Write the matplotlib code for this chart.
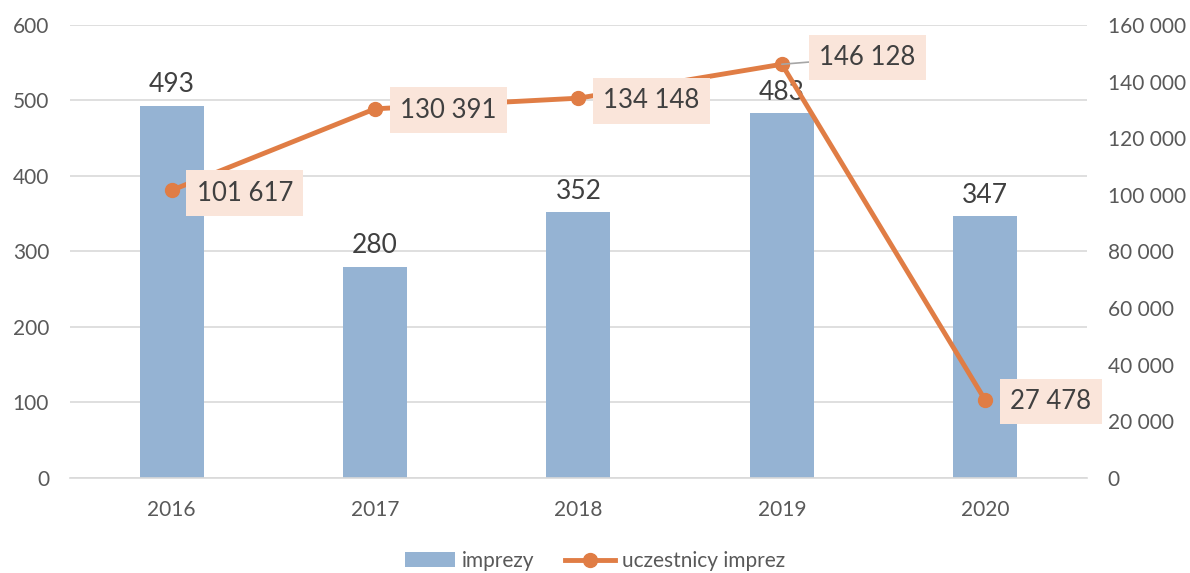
import matplotlib
matplotlib.use("Agg")
import matplotlib.pyplot as plt
import numpy as np

plt.rcParams["font.family"] = ["Lato", "DejaVu Sans"]

years = ["2016", "2017", "2018", "2019", "2020"]
imprezy = [493, 280, 352, 483, 347]
uczestnicy = [101617, 130391, 134148, 146128, 27478]
left_ticks = [0, 100, 200, 300, 400, 500, 600]
right_ticks = [0, 20000, 40000, 60000, 80000, 100000, 120000, 140000, 160000]

bar_color = "#95B3D3"
line_color = "#E07D45"
box_color = "#FAE5DA"
text_color = "#404040"
tick_color = "#595959"


def fmt(v):
    return f"{v:,}".replace(",", " ")


fig = plt.figure(figsize=(11.9, 5.73), dpi=100)
ax = fig.add_axes([0.0588, 0.1658, 0.8546, 0.7906])
ax2 = ax.twinx()

x = np.arange(len(years))
ax.bar(x, imprezy, width=0.315, color=bar_color, zorder=2, label="imprezy")
ax.set_ylim(0, 600)
ax.set_yticks(left_ticks)
ax.set_xlim(-0.5, len(years) - 0.5)
ax.set_xticks(x)
ax.set_xticklabels(years)
ax.grid(axis="y", color="#D9D9D9", linewidth=1.2, zorder=0)
ax.set_axisbelow(True)
for s in ["top", "left", "right"]:
    ax.spines[s].set_visible(False)
ax.spines["bottom"].set_color("#D9D9D9")
ax.spines["bottom"].set_linewidth(1.2)
ax.tick_params(axis="both", length=0, labelsize=15, colors=tick_color)
ax.tick_params(axis="x", pad=16)
ax.tick_params(axis="y", pad=15)

for xi, v in zip(x, imprezy):
    ax.text(xi, v + 11, str(v), ha="center", va="bottom", fontsize=19, color=text_color)

ax2.plot(x, uczestnicy, color=line_color, linewidth=3.5, marker="o", markersize=10,
         zorder=3, label="uczestnicy imprez")
ax2.set_ylim(0, 160000)
ax2.set_yticks(right_ticks)
ax2.set_yticklabels([fmt(t) for t in right_ticks])
for s in ["top", "left", "right", "bottom"]:
    ax2.spines[s].set_visible(False)
ax2.tick_params(axis="y", length=0, labelsize=15, colors=tick_color, pad=15)

bbox = dict(boxstyle="square,pad=0.4", facecolor=box_color, edgecolor="none")
offsets = [(18, -2), (18, -1), (18, -2), (27, 5), (18, -1)]
for i, (xi, v) in enumerate(zip(x, uczestnicy)):
    dx, dy = offsets[i]
    kw = {}
    if i == 3:
        kw["arrowprops"] = dict(arrowstyle="-", color="#A6A6A6", linewidth=1.2,
                                shrinkA=0, shrinkB=0)
    ax2.annotate(fmt(v), (xi, v), xytext=(dx, dy), textcoords="offset points",
                 ha="left", va="center", fontsize=18.5, color=text_color, bbox=bbox,
                 zorder=4, **kw)

h1, l1 = ax.get_legend_handles_labels()
h2, l2 = ax2.get_legend_handles_labels()
fig.legend(h1 + h2, l1 + l2, loc="center", bbox_to_anchor=(0.5, 0.021), ncol=2,
           frameon=False, fontsize=15, labelcolor=tick_color, handlelength=2.4,
           columnspacing=1.45, handletextpad=0.35)

fig.savefig("out.png", dpi=100)
